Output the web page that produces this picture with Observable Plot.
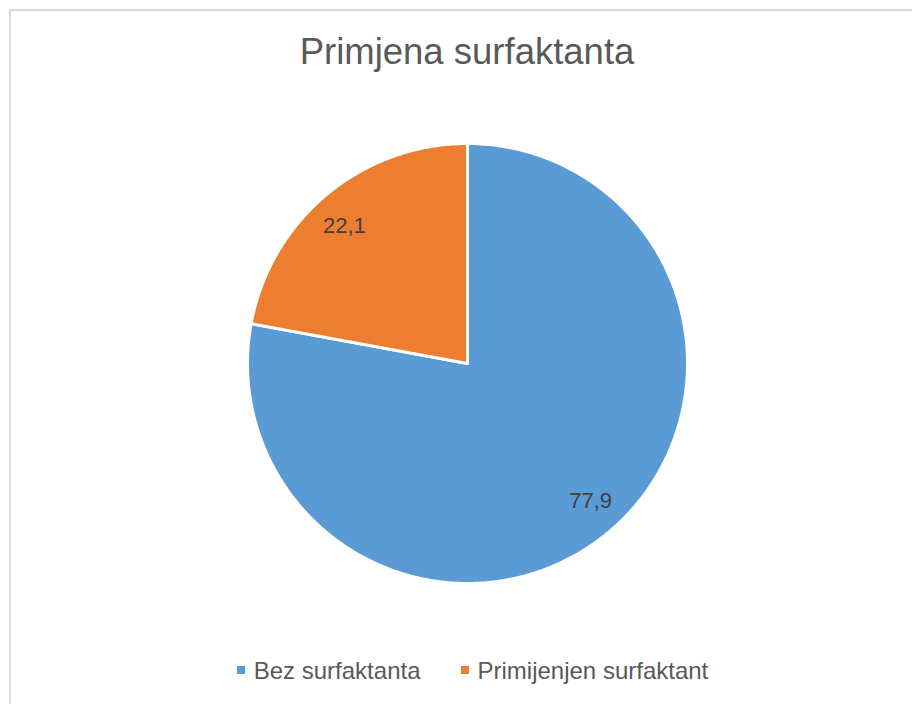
<!DOCTYPE html>
<html><head><meta charset="utf-8">
<script src="https://cdn.jsdelivr.net/npm/d3@7"></script>
<script src="https://cdn.jsdelivr.net/npm/@observablehq/plot@0.6"></script>
<style>
html,body{margin:0;padding:0;background:#fff;}
#wrap{position:relative;width:912px;height:704px;overflow:hidden;font-family:"Liberation Sans",Arial,sans-serif;}
#frame{position:absolute;left:9px;top:9px;width:960px;height:760px;border:2px solid #d9d9d9;box-sizing:border-box;}
#title{position:absolute;left:0;width:934px;top:31px;text-align:center;font-size:36.5px;line-height:normal;color:#595959;}
#chart{position:absolute;left:0;top:113px;}
#legend{position:absolute;left:0;top:657px;width:945px;text-align:center;font-size:24px;line-height:normal;color:#595959;white-space:nowrap;}
.item{display:inline-block;margin:0 20px;}
.sw{display:inline-block;width:8px;height:8px;margin-right:9px;vertical-align:0.22em;}
</style></head>
<body><div id="wrap"><div id="frame"></div><div id="title">Primjena surfaktanta</div><div id="chart"></div><div id="legend"></div></div>
<script>
const categories = ["Bez surfaktanta", "Primijenjen surfaktant"];
const values = [77.9, 22.1];
const labels = ["77,9", "22,1"];
const colors = ["#5b9bd5", "#ed7d31"];

const pie = d3.pie().sort(null).value(d => d)(values);
// arc outlines in unit coordinates (angle measured clockwise from 12 o'clock)
const arcPts = [];
pie.forEach((p, i) => {
  const n = Math.max(8, Math.ceil((p.endAngle - p.startAngle) / 0.01));
  arcPts.push({cat: categories[i], x: 0, y: 0});
  for (let k = 0; k <= n; k++) {
    const a = p.startAngle + (p.endAngle - p.startAngle) * k / n;
    arcPts.push({cat: categories[i], x: Math.sin(a), y: Math.cos(a)});
  }
  arcPts.push({cat: categories[i], x: 0, y: 0});
});
const labelShift = -2 * Math.PI / 180;
const labelPts = pie.map((p, i) => {
  const a = (p.startAngle + p.endAngle) / 2 + labelShift;
  return {label: labels[i], x: 0.84 * Math.sin(a), y: 0.84 * Math.cos(a)};
});

const chart = Plot.plot({
  width: 912, height: 500,
  marginLeft: 247, marginRight: 912 - 687, marginTop: 30, marginBottom: 30,
  x: {domain: [-1, 1], axis: null},
  y: {domain: [-1, 1], axis: null},
  color: {domain: categories, range: colors},
  style: {background: "transparent", fontFamily: "Liberation Sans, Arial, sans-serif"},
  marks: [
    Plot.line(arcPts, {x: "x", y: "y", z: "cat", fill: "cat", stroke: "#fff", strokeWidth: 3, curve: "linear"}),
    Plot.text(labelPts, {x: "x", y: "y", text: "label", fontSize: 22, fill: "#404040"})
  ]
});
document.getElementById("chart").appendChild(chart);

const leg = document.getElementById("legend");
categories.forEach((c, i) => {
  const s = document.createElement("span"); s.className = "item";
  s.innerHTML = `<span class="sw" style="background:${colors[i]}"></span>${c}`;
  leg.appendChild(s);
});
</script></body></html>
